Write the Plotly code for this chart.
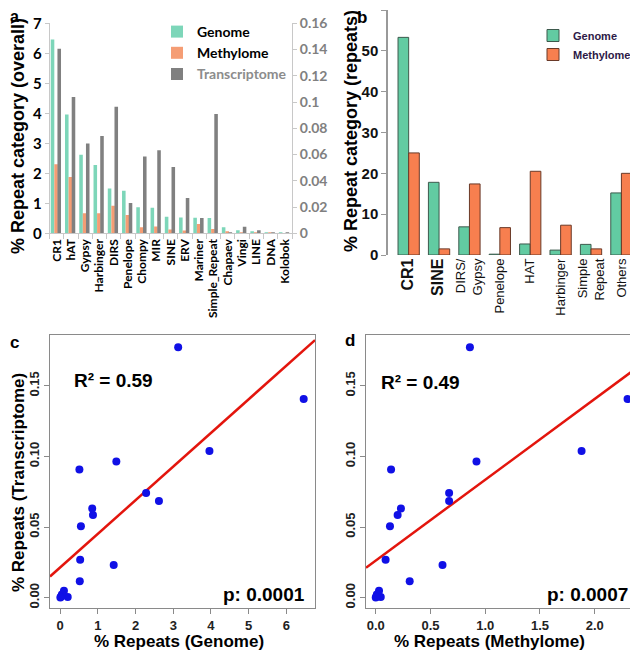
'''
    Repeat categories: overall share, share among repeats, and correlations
'''
import plotly.graph_objects as go
import numpy as np

# panel a: % of each repeat category (overall)
cats_a = ['CR1', 'hAT', 'Gypsy', 'Harbinger', 'DIRS', 'Penelope', 'Chompy', 'MIR',
          'SINE', 'ERV', 'Mariner', 'Simple_Repeat', 'Chapaev', 'Vingi', 'LINE',
          'DNA', 'Kolobok']
genome_a = [6.46, 3.96, 2.62, 2.28, 1.49, 1.42, 0.87, 0.85, 0.55, 0.53, 0.52, 0.51,
            0.20, 0.10, 0.045, 0.02, 0.005]
methyl_a = [2.30, 1.88, 0.67, 0.67, 0.92, 0.61, 0.20, 0.23, 0.13, 0.09, 0.31, 0.14,
            0.046, 0.03, 0.01, 0.005, 0.0]
transcr_a = [0.1406, 0.1038, 0.0684, 0.0741, 0.0965, 0.0231, 0.0585, 0.0632, 0.0505,
             0.0269, 0.0116, 0.0908, 0.0005, 0.005, 0.0023, 0.0007, 0.0002]
right_ticks = [0, 0.02, 0.04, 0.06, 0.08, 0.1, 0.12, 0.14, 0.16]

# one more category shows up only in the scatter plots
extra_genome = [3.13]
extra_methyl = [0.86]
extra_transcr = [0.1774]

# panel b: % of repeat category among repeats
cats_b = ['CR1', 'SINE', 'DIRS/<br>Gypsy', 'Penelope', 'HAT', 'Harbinger',
          'Simple<br>Repeat', 'Others']
big_b = ['CR1', 'SINE']
genome_b = [53.3, 17.8, 6.9, 0.2, 2.7, 1.2, 2.6, 15.2]
methyl_b = [25.0, 1.5, 17.4, 6.7, 20.5, 7.3, 1.5, 20.0]

# stats printed on panels c and d
r2_c, p_c = '0.59', '0.0001'
r2_d, p_d = '0.49', '0.0007'

# the page body keeps its 8px margin, so the figure is 8px smaller
# and positions below are given in window pixels
PAD = 8
W, H = 638 - PAD, 652 - PAD
def px(x):
    return (x - PAD) / W
def py(y):
    return 1 - (y - PAD) / H

calibri = 'Lato'
arial = 'Liberation Sans'

fig = go.Figure()

# ---- panel a
fig.add_trace(go.Bar(x=cats_a, y=genome_a, name='Genome', marker_color='#7dd6b9',
                     width=0.25, offset=-0.42, xaxis='x', yaxis='y', legend='legend'))
fig.add_trace(go.Bar(x=cats_a, y=methyl_a, name='Methylome', marker_color='#f59d74',
                     width=0.25, offset=-0.17, xaxis='x', yaxis='y', legend='legend'))
fig.add_trace(go.Bar(x=cats_a, y=transcr_a,
                     name="<span style='color:#8c8c8c'>Transcriptome</span>",
                     marker_color='#808080', width=0.25, offset=0.05,
                     xaxis='x', yaxis='y2', legend='legend'))

# ---- panel b
fig.add_trace(go.Bar(x=list(range(len(cats_b))), y=genome_b, name='Genome',
                     marker=dict(color='#62cba2', line=dict(color='#3d5a4d', width=1)),
                     width=0.35, offset=-0.35, xaxis='x3', yaxis='y3', legend='legend2'))
fig.add_trace(go.Bar(x=list(range(len(cats_b))), y=methyl_b, name='Methylome',
                     marker=dict(color='#f77f4f', line=dict(color='#6a3a28', width=1)),
                     width=0.35, offset=0, xaxis='x3', yaxis='y3', legend='legend2'))

# ---- panels c and d
sc_genome = np.array(genome_a + extra_genome)
sc_methyl = np.array(methyl_a + extra_methyl)
sc_transcr = np.array(transcr_a + extra_transcr)

x_range_c = [-0.27, 6.76]
x_range_d = [-0.089, 2.377]
y_range_cd = [-0.0073, 0.186]

for xs, xa, ya, xr in [(sc_genome, 'x4', 'y4', x_range_c),
                       (sc_methyl, 'x5', 'y5', x_range_d)]:
    slope, icpt = np.polyfit(xs, sc_transcr, 1)
    lx = np.array(xr)
    fig.add_trace(go.Scatter(x=lx, y=slope * lx + icpt, mode='lines',
                             line=dict(color='#e3150d', width=2.5),
                             xaxis=xa, yaxis=ya, showlegend=False))
    fig.add_trace(go.Scatter(x=xs, y=sc_transcr, mode='markers',
                             marker=dict(color='#1010e6', size=8),
                             xaxis=xa, yaxis=ya, showlegend=False, cliponaxis=False))

light = '#c8c8c8'
box = '#8a8a8a'
scatter_axis = dict(showline=True, mirror=True, linecolor=box, linewidth=1.2,
                    ticks='outside', ticklen=5, tickcolor=box, showgrid=False,
                    zeroline=False, automargin=False,
                    tickfont=dict(family=arial, size=13, color='#222', weight='bold'))

fig.update_layout(
    template='none',
    width=W, height=H,
    margin=dict(l=0, r=0, t=0, b=0, pad=0),
    paper_bgcolor='white', plot_bgcolor='white',
    barmode='overlay',
    xaxis=dict(domain=[px(49.6), px(292)], type='category', range=[-0.5, 16.5],
               anchor='y', tickangle=-90, showline=True, linecolor=light,
               ticks='outside', tickson='boundaries', ticklen=5, tickcolor=light,
               tickfont=dict(family=calibri, size=12, color='black', weight='bold'),
               showgrid=False, automargin=False),
    yaxis=dict(domain=[py(233.3), py(23.3)], range=[0, 7], dtick=1, anchor='x',
               showline=True, linecolor=light, ticks='outside', ticklen=4,
               tickcolor=light, showgrid=False, zeroline=False, automargin=False,
               tickfont=dict(family=calibri, size=15, color='black', weight='bold')),
    yaxis2=dict(overlaying='y', side='right', anchor='x', range=[0, 0.16],
                tickvals=right_ticks, ticktext=[str(v) for v in right_ticks],
                showline=True, linecolor=light, ticks='outside', ticklen=4,
                tickcolor=light, showgrid=False, zeroline=False, automargin=False,
                tickfont=dict(family=calibri, size=14, color='#808080', weight='bold')),
    xaxis3=dict(domain=[px(388), px(636)], range=[-0.68, 7.48], anchor='y3',
                tickvals=list(range(len(cats_b))),
                ticktext=["<b><span style='font-size:16px'>%s</span></b>" % c
                          if c in big_b else c for c in cats_b],
                tickangle=-90, showline=False, ticks='', showgrid=False,
                zeroline=False, automargin=False,
                tickfont=dict(family=arial, size=13, color='#111')),
    yaxis3=dict(domain=[py(255), py(10)], range=[0, 60], dtick=10, anchor='x3',
                showline=True, linecolor='#999999', linewidth=1.5, ticks='outside',
                ticklen=5, tickcolor='#999999', showgrid=False, zeroline=False,
                automargin=False,
                tickfont=dict(family=arial, size=15, color='#111', weight='bold')),
    xaxis4=dict(scatter_axis, domain=[px(50), px(315)], range=x_range_c, dtick=1,
                anchor='y4'),
    yaxis4=dict(scatter_axis, domain=[py(608), py(335)], range=y_range_cd,
                tickvals=[0, 0.05, 0.10, 0.15], tickformat='.2f', tickangle=-90,
                anchor='x4'),
    xaxis5=dict(scatter_axis, domain=[px(366), px(636)], range=x_range_d,
                tickvals=[0, 0.5, 1.0, 1.5, 2.0], tickformat='.1f', anchor='y5'),
    yaxis5=dict(scatter_axis, domain=[py(608), py(335)], range=y_range_cd,
                tickvals=[0, 0.05, 0.10, 0.15], tickformat='.2f', tickangle=-90,
                anchor='x5'),
    legend=dict(x=px(157), y=py(16), xanchor='left', yanchor='top',
                bgcolor='rgba(0,0,0,0)',
                font=dict(family=calibri, size=14, color='black', weight='bold')),
    legend2=dict(x=px(533), y=py(21), xanchor='left', yanchor='top',
                 bgcolor='rgba(0,0,0,0)',
                 font=dict(family=arial, size=11, color='#2e1a47', weight='bold')),
    dragmode=False
)

def label(text, x, y, size, angle=0, family=arial):
    fig.add_annotation(text=text, x=px(x), y=py(y), xref='paper', yref='paper',
                       showarrow=False, textangle=angle, xanchor='center',
                       yanchor='middle',
                       font=dict(family=family, size=size, color='black',
                                 weight='bold'))

# panel letters
label('a', 14, 16, 16)
label('b', 362, 17, 17)
label('c', 14, 342, 17)
label('d', 350, 341, 17)

# axis titles
label('% Repeat category (overall)', 18, 136, 18, -90)
label('% Repeat category (repeats)', 351, 131, 18, -90)
label('% Repeats (Transcriptome)', 18, 483, 17, -90)
label('% Repeats (Genome)', 179, 641, 17)
label('% Repeats (Methylome)', 490, 641, 17)

# stats
label('R² = ' + r2_c, 113, 381, 19)
label('p: ' + p_c, 264, 594, 19)
label('R² = ' + r2_d, 420, 382, 19)
label('p: ' + p_d, 587, 594, 19)

fig.write_html("out.html")
